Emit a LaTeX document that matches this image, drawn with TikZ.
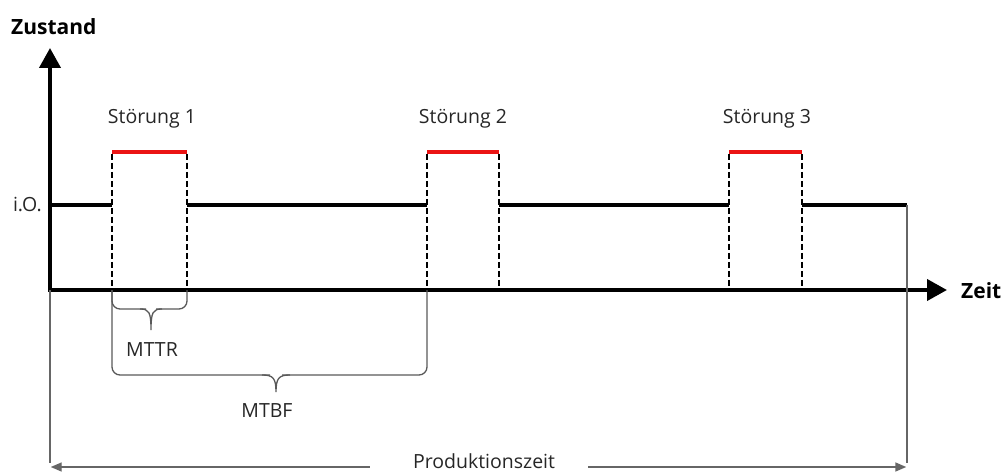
\documentclass[tikz,border=0pt]{standalone}
\usepackage{fontspec}
\setmainfont{Open Sans}
\usetikzlibrary{arrows.meta}
\begin{document}
\begin{tikzpicture}[x=1pt,y=-1pt,
  axisline/.style={line width=4pt,-{Triangle[length=20pt,width=21pt]}},
  level/.style={line width=4pt},
  fault/.style={line width=4pt,draw={rgb,255:red,235;green,20;blue,20}},
  guide/.style={line width=1.5pt,dash pattern=on 6pt off 3pt},
  grayline/.style={line width=1.4pt,draw=black!60},
  bracepath/.style={line width=1.3pt,draw=black!65,rounded corners=8pt},
  lbl/.style={font=\fontsize{19.5}{23}\selectfont,text=black!85,inner sep=0pt},
  axlbl/.style={font=\bfseries\fontsize{21}{24}\selectfont,inner sep=0pt}
]
\path[use as bounding box] (0,0) rectangle (1007,473);

% key coordinates
\coordinate (O) at (50,290);
\coordinate (Ytip) at (50,48);
\coordinate (Xtip) at (947,290);
\coordinate (L0) at (50,205);
\coordinate (Lend) at (907,205);
\coordinate (Bl) at (50,467);
\coordinate (Br) at (907,467);

% fault intervals: a = start, b = end
\foreach \n/\a/\b in {1/112/187, 2/427/499, 3/729/802}{
  \coordinate (s\n t) at (\a,152);
  \coordinate (e\n t) at (\b,152);
  \coordinate (s\n m) at (\a,205);
  \coordinate (e\n m) at (\b,205);
  \coordinate (s\n b) at (\a,290);
  \coordinate (e\n b) at (\b,290);
}

% axes
\draw[axisline] (O) -- (Ytip);
\draw[axisline] ([xshift=-2pt]O) -- (Xtip);
\node[axlbl,anchor=west] (zustand) at (11,27) {Zustand};
\node[axlbl,anchor=west] (zeit) at (961,291) {Zeit};
\node[lbl,anchor=east] (io) at (42,204) {i.O.};

% state line
\draw[level] (L0) -- (s1m);
\draw[level] (e1m) -- (s2m);
\draw[level] (e2m) -- (s3m);
\draw[level] (e3m) -- (Lend);

% faults
\foreach \n in {1,2,3}{
  \draw[fault] (s\n t) -- (e\n t);
  \draw[guide] ([yshift=-2pt]s\n t) -- (s\n b);
  \draw[guide] ([yshift=-2pt]e\n t) -- (e\n b);
}
\node[lbl] (f1) at (152,119) {Störung 1};
\node[lbl] (f2) at (463,119) {Störung 2};
\node[lbl] (f3) at (767,119) {Störung 3};

% production time
\draw[grayline] (O) -- ([yshift=4pt]Bl);
\draw[grayline] (Lend) -- ([yshift=4pt]Br);
\node[lbl,inner xsep=0pt,inner ysep=0pt] (prod) at (484,461) {Produktionszeit};
\draw[grayline,-{Triangle[length=11pt,width=9pt]}] ([xshift=-43pt]prod.west |- Bl) -- ([xshift=0.7pt]Bl);
\draw[grayline,-{Triangle[length=11pt,width=9pt]}] ([xshift=33pt]prod.east |- Br) -- ([xshift=-0.7pt]Br);

% MTTR brace
\coordinate (mttrtip) at (151,330);
\draw[bracepath] (s1b) -- (112,309) -- (146,309);
\draw[line width=1.3pt,draw=black!65] (140,309) .. controls (149,309) and (151,312) .. (mttrtip)
  .. controls (151,312) and (153,309) .. (162,309);
\draw[bracepath] (156,309) -- (187,309) -- (e1b);
\node[lbl] (mttr) at (152,350) {MTTR};

% MTBF brace
\coordinate (mtbftip) at (276,392);
\draw[bracepath] (s1b) -- (112,375) -- (270,375);
\draw[line width=1.3pt,draw=black!65] (262,375) .. controls (273,375) and (276,378) .. (mtbftip)
  .. controls (276,378) and (279,375) .. (290,375);
\draw[bracepath] (282,375) -- (427,375) -- (s2b);
\node[lbl] (mtbf) at (267,411) {MTBF};
\end{tikzpicture}
\end{document}
